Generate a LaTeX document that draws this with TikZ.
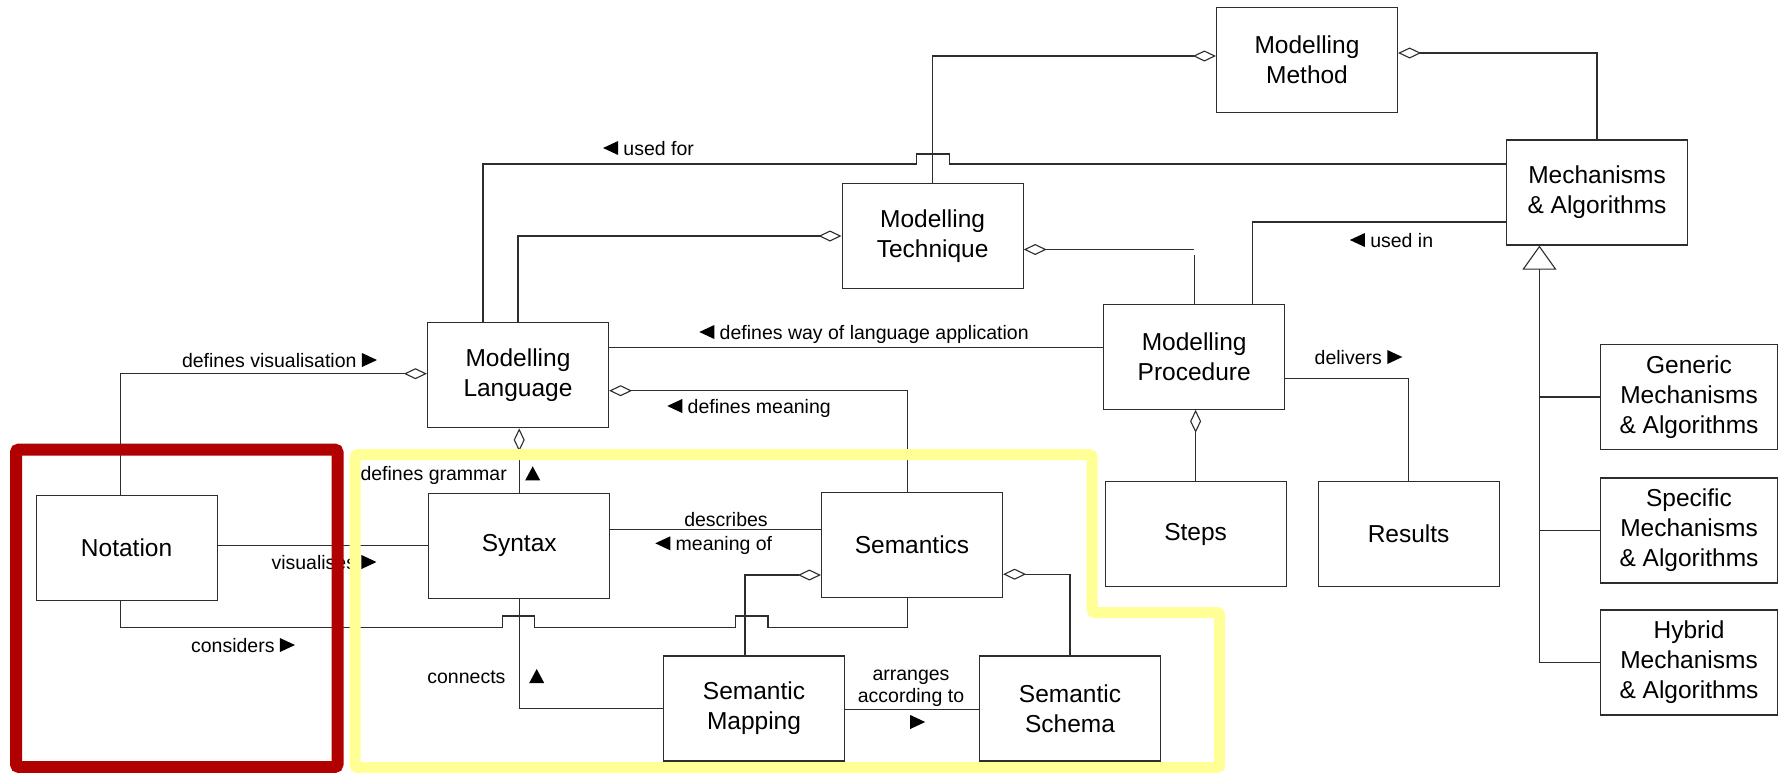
\documentclass[tikz,border=0pt]{standalone}
\usepackage{fontspec}
\setmainfont{Liberation Sans}
\usetikzlibrary{arrows.meta,calc}

% small filled direction markers used inside association labels
\newcommand\rtri{\tikz[baseline=0pt]\fill (0pt,0pt)--(0pt,14pt)--(15pt,7pt)--cycle;}
\newcommand\ltri{\tikz[baseline=0pt]\fill (15pt,0pt)--(15pt,14pt)--(0pt,7pt)--cycle;}
\newcommand\utri{\tikz[baseline=0pt]\fill (0pt,0pt)--(15pt,0pt)--(7.5pt,14pt)--cycle;}

\definecolor{linec}{RGB}{45,45,45}
\definecolor{hlred}{RGB}{176,0,0}
\definecolor{hlyellow}{RGB}{255,255,150}

\begin{document}
\begin{tikzpicture}[x=1pt,y=-1pt,
  box/.style={draw=linec, line width=1.2pt, fill=white, minimum width=181pt,
    minimum height=105pt, align=center, inner sep=0pt,
    font=\fontsize{24.5}{30}\selectfont},
  lbl/.style={inner sep=0pt, align=center, text height=14pt, text depth=0pt,
    font=\fontsize{19.5}{22}\selectfont},
  conn/.style={draw=linec, line width=1.1pt},
  dia/.style={conn, -{Diamond[fill=white, length=23pt, width=11pt]}},
  inh/.style={conn, -{Triangle[fill=white, length=24pt, width=34pt]}},
  hl/.style={rounded corners=3pt}]

\useasboundingbox (0,0) rectangle (1779,772);

% classes
\node[box] (mm)    at (1307,60)      {Modelling\\Method};
\node[box] (mt)    at (932.6,236)    {Modelling\\Technique};
\node[box] (ma)    at (1597,192.5)   {Mechanisms\\\& Algorithms};
\node[box] (ml)    at (518,375.3)    {Modelling\\Language};
\node[box] (mp)    at (1194.2,356.7) {Modelling\\Procedure};
\node[box] (nota)  at (126.6,548)    {Notation};
\node[box] (syn)   at (519.2,545.7)  {Syntax};
\node[box] (sem)   at (912,545.2)    {Semantics};
\node[box] (steps) at (1195.6,534.2) {Steps};
\node[box] (res)   at (1408.6,534.2) {Results};
\node[box] (smap)  at (754,708.5)    {Semantic\\Mapping};
\node[box] (ss)    at (1070,708.5)   {Semantic\\Schema};
\node[box, minimum width=177pt] (gen)  at (1689,397)   {Generic\\Mechanisms\\\& Algorithms};
\node[box, minimum width=177pt] (spec) at (1689,530.5) {Specific\\Mechanisms\\\& Algorithms};
\node[box, minimum width=177pt] (hyb)  at (1689,662.5) {Hybrid\\Mechanisms\\\& Algorithms};

% aggregations of the modelling method
\draw[dia] (mt.north) |- ([yshift=4pt]mm.west);
\draw[dia] (ma.north) |- ([yshift=7pt]mm.east);
\draw[dia] (ml.north) |- (mt.west);
\draw[dia] ($(mp.north |- mt.east)+(0,13.5)$) -- ([yshift=-13.5pt]mt.east);
\draw[conn] (mp.north) -- ++(0,-49);

% used for (hops over the technique link)
\coordinate (uf) at ([yshift=28.5pt]ma.west);
\draw[conn] ([xshift=-35pt]ml.north) |- ($(mt.north |- uf)+(-16.5,0)$)
  -- ++(0,-10) -- ++(33,0) -- ++(0,10) -- (uf);
\node[lbl] (l-usedfor) at (648.5,148) {\ltri\ used for};

% used in
\draw[conn] ([yshift=-29.5pt]ma.west) -| ([xshift=58pt]mp.north);
\node[lbl] (l-usedin) at (1391.5,240) {\ltri\ used in};

% defines way of language application
\draw[conn] ([yshift=28pt]ml.east) -- ([yshift=28pt]ml.east -| mp.west);
\node[lbl] (l-way) at (864,332) {\ltri\ defines way of language application};

% delivers / steps
\draw[conn] (res.north) |- ([yshift=-22pt]mp.east);
\node[lbl] (l-deliv) at (1358.5,357) {delivers \rtri};
\draw[dia] (steps.north) -- (steps.north |- mp.south);

% specialisations of mechanisms & algorithms
\coordinate (trunk) at ([xshift=-57.6pt]ma.south);
\draw[inh] (hyb.west) -| (trunk);
\draw[conn] (gen.west) -- (gen.west -| trunk);
\draw[conn] (spec.west) -- (spec.west -| trunk);

% defines visualisation
\draw[dia] ([xshift=-6pt]nota.north) |- ([yshift=1.6pt]ml.west);
\node[lbl] (l-vis) at (279.5,360) {defines visualisation \rtri};

% defines meaning
\draw[dia] ([xshift=-4.5pt]sem.north) |- ([yshift=-15.4pt]ml.east);
\node[lbl] (l-mean) at (749,406) {\ltri\ defines meaning};

% defines grammar
\draw[dia] (syn.north) -- (syn.north |- ml.south);
\node[lbl] (l-gram) at (433.7,473.3) {defines grammar};
\node[lbl] (l-gramt) at (532.7,473.3) {\utri};

% visualises
\draw[conn] ([yshift=2.3pt]nota.east) -- ([yshift=2.3pt]nota.east -| syn.west);
\node[lbl] (l-visu) at (324,562) {visualises \rtri};

% describes meaning of
\draw[conn] ([yshift=16pt]syn.east) -- ([yshift=16pt]syn.east -| sem.west);
\node[lbl] (l-desc) at (726,519.3) {describes};
\node[lbl] (l-descb) at (713.7,543.3) {\ltri\ meaning of};

% connects
\draw[conn] (syn.south) |- (smap.west);
\node[lbl] (l-conn) at (466.4,676.7) {connects};
\node[lbl] (l-connt) at (536.7,676) {\utri};

% semantics parts
\coordinate (smv) at ([xshift=-9pt]smap.north);
\draw[dia] (smv) |- ([yshift=-29.8pt]sem.west);
\draw[dia] (ss.north) |- ([yshift=-29pt]sem.east);

% arranges according to
\draw[conn] ([yshift=-0.8pt]smap.east) -- ([yshift=-0.8pt]smap.east -| ss.west);
\node[lbl, text height=36pt] (l-arr) at (911,684.5) {arranges\\according to};
\node[lbl] (l-arrt) at (917.7,722) {\rtri};

% considers (hops over two vertical links)
\coordinate (cy) at (0,627.5);
\draw[conn] ([xshift=-6pt]nota.south) |- ($(syn.south |- cy)+(-16.5,0)$)
  -- ++(0,-11.5) -- ++(32,0) -- ++(0,11.5)
  -- ($(smv |- cy)+(-9.5,0)$)
  -- ++(0,-11.5) -- ++(32.5,0) -- ++(0,11.5)
  -| ([xshift=-4.5pt]sem.south);
\node[lbl] (l-cons) at (243,645) {considers \rtri};

% highlighted regions
\draw[hl, hlyellow, line width=11pt] (355,454.5) -- (1092,454.5) -- (1092,612.5)
  -- (1219.7,612.5) -- (1219.7,767.5) -- (355,767.5) -- cycle;
\draw[hl, hlred, line width=12pt] (16,449.5) rectangle (337.5,767);

\end{tikzpicture}
\end{document}
